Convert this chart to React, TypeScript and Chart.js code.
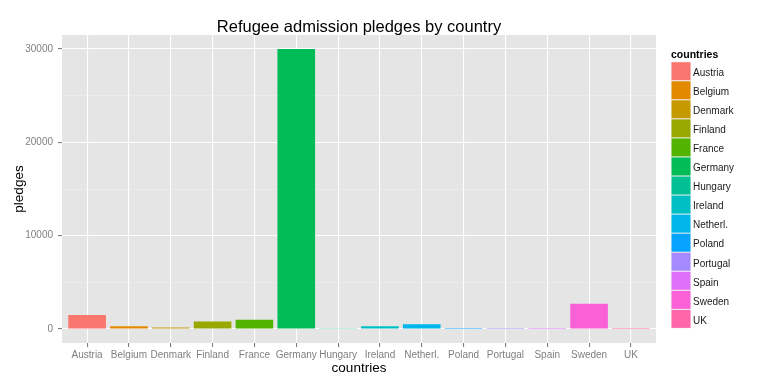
import React, { useEffect, useRef } from "react";
import { Chart, registerables } from "chart.js";

Chart.register(...registerables);

const countries = [
  "Austria", "Belgium", "Denmark", "Finland", "France", "Germany", "Hungary",
  "Ireland", "Netherl.", "Poland", "Portugal", "Spain", "Sweden", "UK",
];
const pledges = [1500, 300, 150, 800, 1000, 30000, 30, 300, 500, 100, 100, 100, 2700, 100];
const colors = [
  "#F8766D", "#E38900", "#C49A00", "#99A800", "#53B400", "#00BC56", "#00C094",
  "#00BFC4", "#00B6EB", "#06A4FF", "#A58AFF", "#DF70F8", "#FB61D7", "#FF66A8",
];
const yTickValues = [0, 5000, 10000, 15000, 20000, 25000, 30000];
const titleText = "Refugee admission pledges by country";
const xTitle = "countries";
const yTitle = "pledges";
const legendTitle = "countries";

const FONT = '"Liberation Sans", Arial, Helvetica, sans-serif';

const decor = {
  id: "decor",
  beforeDraw(chart: any) {
    const { ctx, chartArea: a } = chart;
    ctx.save();
    ctx.fillStyle = "#ffffff";
    ctx.fillRect(0, 0, chart.width, chart.height);
    ctx.fillStyle = "#E5E5E5";
    ctx.fillRect(a.left, a.top, a.right - a.left, a.bottom - a.top);
    ctx.restore();
  },
  afterDraw(chart: any) {
    const { ctx, chartArea: a } = chart;
    const cx = (a.left + a.right) / 2;
    ctx.save();
    ctx.fillStyle = "#000000";
    ctx.textBaseline = "alphabetic";
    ctx.textAlign = "center";
    ctx.font = `16.5px ${FONT}`;
    ctx.fillText(titleText, cx, 31.7);
    ctx.font = `13.5px ${FONT}`;
    ctx.fillText(xTitle, cx, 372);
    ctx.save();
    ctx.translate(23, (a.top + a.bottom) / 2);
    ctx.rotate(-Math.PI / 2);
    ctx.fillText(yTitle, 0, 0);
    ctx.restore();

    // legend
    ctx.textAlign = "left";
    ctx.font = `bold 10.5px ${FONT}`;
    ctx.fillStyle = "#000000";
    ctx.fillText(legendTitle, 671, 58);
    const top = 61.7;
    const step = 19.05;
    ctx.font = `10px ${FONT}`;
    countries.forEach((c, i) => {
      const y0 = top + i * step;
      ctx.fillStyle = "#F2F2F2";
      ctx.fillRect(671, y0, 20, step);
      ctx.fillStyle = colors[i];
      ctx.fillRect(671.5, y0 + 0.5, 19, step - 1);
      ctx.fillStyle = "#1a1a1a";
      ctx.fillText(c, 693, y0 + 14.3);
    });
    ctx.restore();
  },
};

export default function App() {
  const ref = useRef<HTMLCanvasElement | null>(null);
  useEffect(() => {
    if (!ref.current) return;
    Chart.defaults.font.family = FONT;
    const chart = new Chart(ref.current, {
      type: "bar",
      data: {
        datasets: [
          {
            data: pledges.map((v, i) => ({ x: i, y: v })),
            backgroundColor: colors,
            borderWidth: 0,
            barPercentage: 0.9,
            categoryPercentage: 1,
          },
        ],
      },
      options: {
        responsive: false,
        animation: false,
        devicePixelRatio: 1,
        layout: { padding: { left: 0, right: 112, top: 35, bottom: 0 } },
        plugins: { legend: { display: false }, tooltip: { enabled: false }, title: { display: false } },
        scales: {
          x: {
            type: "linear",
            min: -0.6,
            max: 13.6,
            offset: false,
            bounds: "data",
            afterBuildTicks: (s: any) => {
              s.ticks = countries.map((_, i) => ({ value: i }));
            },
            afterFit: (s: any) => {
              s.height = 41;
            },
            ticks: {
              autoSkip: false,
              maxRotation: 0,
              color: "#7F7F7F",
              font: { size: 10 },
              padding: 2,
              callback: (_v: any, idx: number) => countries[idx] ?? "",
            },
            grid: { offset: false, color: "#ffffff", lineWidth: 1.1, tickColor: "#7F7F7F", tickLength: 4 },
            border: { display: false },
          },
          y: {
            type: "linear",
            min: -1500,
            max: 31500,
            afterBuildTicks: (s: any) => {
              s.ticks = yTickValues.map((v) => ({ value: v }));
            },
            afterFit: (s: any) => {
              s.width = 62;
            },
            ticks: {
              color: "#7F7F7F",
              font: { size: 10 },
              padding: 5,
              callback: (v: any) => (Number(v) % 10000 === 0 ? String(v) : ""),
            },
            grid: {
              color: (c: any) => (c.tick && c.tick.value % 10000 === 0 ? "#ffffff" : "#F2F2F2"),
              lineWidth: (c: any) => (c.tick && c.tick.value % 10000 === 0 ? 1.1 : 0.5),
              tickColor: (c: any) => (c.tick && c.tick.value % 10000 === 0 ? "#7F7F7F" : "rgba(0,0,0,0)"),
              tickLength: 4,
            },
            border: { display: false },
          },
        },
      },
      plugins: [decor],
    } as any);
    return () => chart.destroy();
  }, []);
  return (
    <div style={{ position: "fixed", left: 0, top: 0, width: 768, height: 384 }}>
      <canvas ref={ref} width={768} height={384} style={{ width: 768, height: 384, display: "block" }} />
    </div>
  );
}
